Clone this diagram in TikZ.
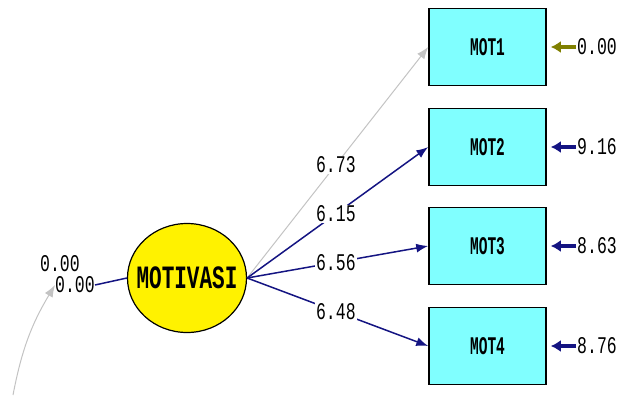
\documentclass[tikz,border=0pt]{standalone}
\usepackage{fontspec}
\setmonofont{Liberation Mono}
\usetikzlibrary{shapes.geometric,arrows.meta}

\definecolor{boxcyan}{RGB}{128,255,255}
\definecolor{loadblue}{RGB}{20,20,130}
\definecolor{errolive}{RGB}{128,128,0}
\definecolor{fixgray}{RGB}{195,195,195}

\newcommand{\tall}[2][1.5]{\scalebox{1}[#1]{#2}}

\tikzset{
  latent/.style={ellipse, draw, line width=1.2pt, fill=yellow, inner sep=0pt,
    minimum width=119pt, minimum height=109pt,
    font=\ttfamily\bfseries\fontsize{21}{21}\selectfont},
  observed/.style={rectangle, draw, line width=1.5pt, fill=boxcyan,
    minimum width=117pt, minimum height=77pt,
    font=\ttfamily\bfseries\fontsize{14.5}{14.5}\selectfont},
  est/.style={fill=white, inner sep=1pt, font=\ttfamily\fontsize{16.5}{16.5}\selectfont},
  loading/.style={draw=loadblue, line width=1.5pt,
    -{Latex[length=12pt,width=9pt]}},
  fixedarrow/.style={draw=fixgray, line width=1pt,
    -{Latex[length=12pt,width=9pt]}},
  errarrow/.style={line width=3.5pt, shorten >=4pt,
    -{Latex[length=10pt,width=12pt]}}
}

\begin{document}
\begin{tikzpicture}[x=1pt,y=-1pt]
  \useasboundingbox (0,0) rectangle (620,396);

  \node[latent] (motivasi) at (187,278) {\makebox[0pt]{\tall[1.55]{MOTIVASI}}};

  \node[observed] (mot1) at (487.5,47) {\tall[1.75]{MOT1}};
  \node[observed] (mot2) at (487.5,147) {\tall[1.75]{MOT2}};
  \node[observed] (mot3) at (487.5,246) {\tall[1.75]{MOT3}};
  \node[observed] (mot4) at (487.5,346) {\tall[1.75]{MOT4}};

  \node[est, anchor=west] (e1) at (576,47) {\tall[1.45]{0.00}};
  \node[est, anchor=west] (e2) at (576,147) {\tall[1.45]{9.16}};
  \node[est, anchor=west] (e3) at (576,246) {\tall[1.45]{8.63}};
  \node[est, anchor=west] (e4) at (576,346) {\tall[1.45]{8.76}};

  \draw[fixedarrow] (motivasi.east) -- node[est, pos=0.49] {\tall[1.45]{6.73}} (mot1.west);
  \draw[loading] (motivasi.east) -- node[est, pos=0.49] {\tall[1.45]{6.15}} (mot2.west);
  \draw[loading] (motivasi.east) -- node[est, pos=0.49] {\tall[1.45]{6.56}} (mot3.west);
  \draw[loading] (motivasi.east) -- node[est, pos=0.49] {\tall[1.45]{6.48}} (mot4.west);

  \draw[errarrow, errolive] (e1.west) -- (mot1.east);
  \draw[errarrow, loadblue] (e2.west) -- (mot2.east);
  \draw[errarrow, loadblue] (e3.west) -- (mot3.east);
  \draw[errarrow, loadblue] (e4.west) -- (mot4.east);

  \node[est, fill=none, inner sep=0pt] (v0) at (75,285) {\tall[1.45]{0.00}};
  \node[est, fill=none, inner sep=0pt] (v0top) at (60,264) {\tall[1.45]{0.00}};
  \draw[loadblue, line width=1.5pt] (motivasi.west) -- (v0.east);
  \coordinate (c0) at (13,395);
  \draw[fixedarrow] (c0) to[bend left=10] (v0.west);
\end{tikzpicture}
\end{document}
